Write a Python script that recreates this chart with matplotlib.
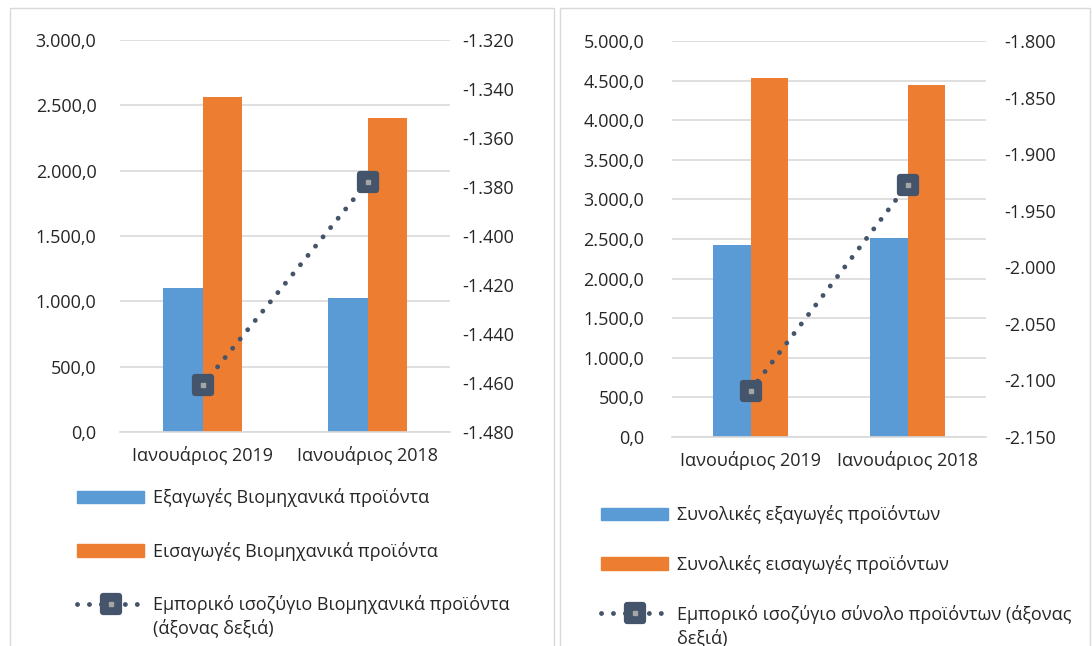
import matplotlib
matplotlib.use('Agg')
import matplotlib.pyplot as plt
from matplotlib.markers import MarkerStyle
from matplotlib.patches import Rectangle, Patch
from matplotlib.ticker import FuncFormatter, MultipleLocator
import numpy as np

plt.rcParams['font.family'] = ['Open Sans', 'DejaVu Sans']
plt.rcParams['font.size'] = 13

months = ['Ιανουάριος 2019', 'Ιανουάριος 2018']

# industrial products (million euro)
ind_exports = [1102, 1025]
ind_imports = [2563, 2403]
ind_balance = [-1461, -1378]

# all products
tot_exports = [2424, 2512]
tot_imports = [4533, 4439]
tot_balance = [-2109, -1927]

ind_labels = ['Εξαγωγές Βιομηχανικά προϊόντα',
              'Εισαγωγές Βιομηχανικά προϊόντα',
              'Εμπορικό ισοζύγιο Βιομηχανικά προϊόντα']
ind_wrap = '(άξονας δεξιά)'
tot_labels = ['Συνολικές εξαγωγές προϊόντων',
              'Συνολικές εισαγωγές προϊόντων',
              'Εμπορικό ισοζύγιο σύνολο προϊόντων (άξονας']
tot_wrap = 'δεξιά)'

BLUE = '#5b9bd5'
ORANGE = '#ed7d31'
SLATE = '#44546a'
GRID = '#d9d9d9'
TEXT = '#262626'

W, H = 1092, 646


def left_fmt(v, pos):
    return f'{v:,.1f}'.replace(',', '#').replace('.', ',').replace('#', '.')


def right_fmt(v, pos):
    return f'{v:,.0f}'.replace(',', '.')


def draw_panel(fig, rect, exports, imports, balance, ylim, ystep, y2lim, y2step,
               lpad, rpad, labels, wrap, legend_anchor, spacing):
    ax = fig.add_axes(rect)
    x = np.arange(len(months))
    w = 0.24
    ax.bar(x - w / 2, exports, w, color=BLUE, zorder=2)
    ax.bar(x + w / 2, imports, w, color=ORANGE, zorder=2)
    ax.set_xlim(-0.5, len(months) - 0.5)
    ax.set_ylim(*ylim)
    ax.yaxis.set_major_locator(MultipleLocator(ystep))
    ax.yaxis.set_major_formatter(FuncFormatter(left_fmt))
    ax.grid(axis='y', color=GRID, lw=1.2, zorder=0)
    ax.set_axisbelow(True)
    for s in ['top', 'left', 'right']:
        ax.spines[s].set_visible(False)
    ax.spines['bottom'].set_color(GRID)
    ax.spines['bottom'].set_linewidth(1.2)
    ax.set_xticks(x)
    ax.set_xticklabels(months)
    ax.tick_params(axis='x', length=0, pad=10, colors=TEXT)
    ax.tick_params(axis='y', length=0, pad=lpad, colors=TEXT)

    ax2 = ax.twinx()
    ax2.set_ylim(*y2lim)
    ax2.yaxis.set_major_locator(MultipleLocator(y2step))
    ax2.yaxis.set_major_formatter(FuncFormatter(right_fmt))
    ax2.tick_params(axis='y', length=0, pad=rpad, colors=TEXT)
    for s in ax2.spines.values():
        s.set_visible(False)
    mk = MarkerStyle('s', joinstyle='round')
    ln, = ax2.plot(x, balance, color=SLATE, lw=3.5,
                   linestyle=(0, (0.01, 2.45)), dash_capstyle='round',
                   marker=mk, ms=12, mec=SLATE, mew=4.5, mfc=SLATE, zorder=3)
    dot, = ax2.plot(x, balance, ls='none', marker='s', ms=2.5,
                    color='#a5a5a5', zorder=4)

    handles = [Patch(color=BLUE), Patch(color=ORANGE), (ln, dot)]
    leg = fig.legend(handles, labels, loc='upper left',
                     bbox_to_anchor=legend_anchor, frameon=False,
                     handlelength=3.7, handletextpad=0.5,
                     labelspacing=spacing, labelcolor=TEXT, borderaxespad=0)

    # the last legend label runs on to a second line
    fig.canvas.draw()
    bb = leg.get_texts()[2].get_window_extent()
    fig.text(bb.x0 / W, (bb.y0 + bb.y1) / 2 / H - 24 / H, wrap,
             va='center', ha='left', color=TEXT)
    return ax


fig = plt.figure(figsize=(10.92, 6.46), dpi=100)

fig.patches.append(Rectangle((10 / W, -0.1), 544 / W, 1.1 - 8 / H,
                             transform=fig.transFigure, fill=False,
                             edgecolor=GRID, lw=1))
fig.patches.append(Rectangle((560 / W, -0.1), 530 / W, 1.1 - 8 / H,
                             transform=fig.transFigure, fill=False,
                             edgecolor=GRID, lw=1))

draw_panel(fig, [120 / W, 1 - 432 / H, 330 / W, 392 / H],
           ind_exports, ind_imports, ind_balance,
           (0, 3000), 500, (-1480, -1320), 20, 17, 9,
           ind_labels, ind_wrap, (70 / W, 1 - 481 / H), 1.9)

draw_panel(fig, [672 / W, 1 - 437 / H, 314 / W, 396 / H],
           tot_exports, tot_imports, tot_balance,
           (0, 5000), 500, (-2150, -1800), 50, 20, 13,
           tot_labels, tot_wrap, (594 / W, 1 - 498 / H), 1.7)

fig.savefig('out.png', dpi=100)
